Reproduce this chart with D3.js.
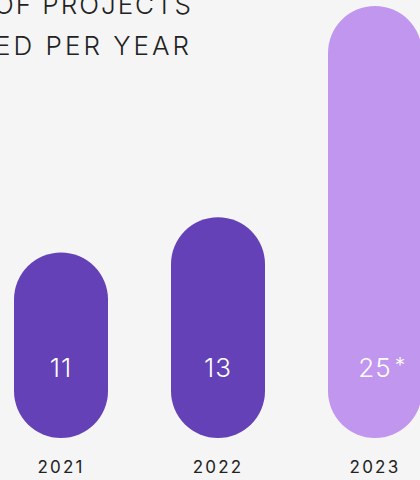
<!DOCTYPE html>
<html>
<head>
<meta charset="utf-8">
<script src="https://cdn.jsdelivr.net/npm/d3@7"></script>
<style>
  html, body { margin: 0; padding: 0; background: #f5f5f5; }
  svg { display: block; font-family: "Inter", "Helvetica Neue", Arial, sans-serif; }
</style>
</head>
<body>
<div id="chart"></div>
<script>
// data
const years = ["2021", "2022", "2023"];
const projects = [11, 13, 25];
const notes = ["", "", "*"];
const estimated = [false, false, true];
const titleLines = ["NUMBER OF PROJECTS", "COMPLETED PER YEAR"];

const width = 420, height = 480;
const baseY = 438;

const svg = d3.select("#chart")
    .append("svg")
    .attr("width", width)
    .attr("height", height);

svg.append("rect")
    .attr("width", width)
    .attr("height", height)
    .attr("fill", "#f5f5f5");

// scales
const x = d3.scaleBand()
    .domain(years)
    .range([14, 422])
    .paddingInner(63 / 157)
    .paddingOuter(0);

const y = d3.scaleLinear()
    .domain([0, 25])
    .range([446, 6]);

const color = d => d.est ? "#c196ee" : "#6441b7";

const rows = years.map((yr, i) => ({ year: yr, value: projects[i], note: notes[i], est: estimated[i] }));

// title (clipped at the left edge)
svg.append("g")
    .selectAll("text")
    .data(titleLines)
    .join("text")
    .attr("x", (d, i) => i === 0 ? 193 : 192)
    .attr("y", (d, i) => 14 + i * 41)
    .attr("text-anchor", "end")
    .attr("font-size", 26)
    .attr("font-weight", 300)
    .attr("letter-spacing", (d, i) => i === 0 ? 2 : 3)
    .attr("fill", "#222")
    .text(d => d);

// pill bars
svg.append("g")
    .selectAll("rect")
    .data(rows)
    .join("rect")
    .attr("x", d => x(d.year))
    .attr("y", d => y(d.value))
    .attr("width", x.bandwidth())
    .attr("height", d => baseY - y(d.value))
    .attr("rx", x.bandwidth() / 2)
    .attr("fill", color);

// value labels
const labels = svg.append("g")
    .selectAll("g")
    .data(rows)
    .join("g")
    .attr("transform", d => `translate(${x(d.year) + x.bandwidth() / 2},377)`);

labels.append("text")
    .attr("class", "val")
    .attr("text-anchor", "middle")
    .attr("font-size", 26)
    .attr("font-weight", 300)
    .attr("letter-spacing", 1)
    .attr("fill", "#fff")
    .text(d => d.value);

labels.filter(d => d.note)
    .append("text")
    .attr("x", function() {
        const w = this.parentNode.querySelector(".val").getComputedTextLength();
        return w / 2 + 3;
    })
    .attr("y", -4)
    .attr("font-size", 21)
    .attr("font-weight", 300)
    .attr("fill", "#fff")
    .text(d => d.note);

// year labels
svg.append("g")
    .selectAll("text")
    .data(rows)
    .join("text")
    .attr("x", d => x(d.year) + x.bandwidth() / 2)
    .attr("y", 473)
    .attr("text-anchor", "middle")
    .attr("font-size", 17)
    .attr("font-weight", 400)
    .attr("letter-spacing", 2.2)
    .attr("fill", "#222")
    .text(d => d.year);
</script>
</body>
</html>
